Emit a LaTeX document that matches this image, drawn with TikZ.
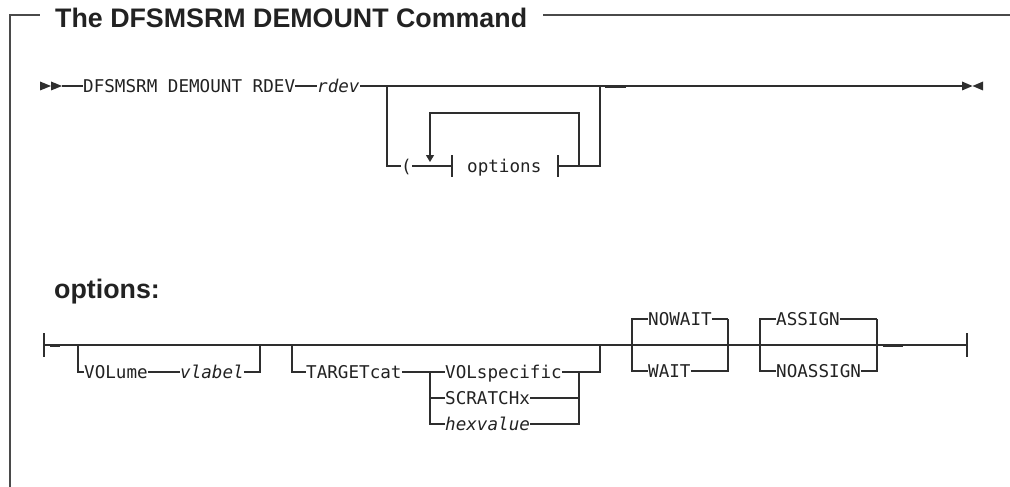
\documentclass[tikz,border=0pt]{standalone}
\usepackage{fontspec}
\setmainfont{Liberation Sans}
\newfontfamily\monof{DejaVu Sans Mono}
\usetikzlibrary{arrows.meta}
\definecolor{ink}{HTML}{222222}
\definecolor{rule}{HTML}{2E2E2E}
\definecolor{framec}{HTML}{4A4A4A}
\begin{document}
\begin{tikzpicture}[x=1pt,y=-1pt,
  rr/.style={draw=rule, line width=1.1pt},
  frame/.style={draw=framec, line width=1.5pt},
  kw/.style={font={\monof\fontsize{17.6}{20}\selectfont}, text=ink, inner sep=0pt,
             text height=12.8pt, text depth=0pt, anchor=west},
  var/.style={kw, font={\monof\itshape\fontsize{17.6}{20}\selectfont}},
  head/.style={font={\bfseries\fontsize{26.8}{30}\selectfont}, text=ink, inner sep=0pt, anchor=base west},
  tri/.style={fill=rule},
  blip/.style={draw=rule, line width=1.9pt}]
\useasboundingbox (0,0) rectangle (1010,487);

% ---------- frame and title ----------
\node[head] (title) at (55,27.5) {The DFSMSRM DEMOUNT Command};
\coordinate (fbl) at (10,487);
\coordinate (ftl) at (10,15);
\coordinate (ftm) at (40,15);
\path (title.east) ++(16,0) coordinate (ftr0);
\coordinate (ftr1) at (1010,15);
\draw[frame] (fbl) -- (ftl) -- (ftm);
\draw[frame] (ftr0 |- ftl) -- (ftr1);

% ---------- main syntax line ----------
\fill[tri] (40,81.5) -- (51,86) -- (40,90.5) -- cycle;
\fill[tri] (51,81.5) -- (62,86) -- (51,90.5) -- cycle;
\coordinate (s1) at (62,86);
\node[kw] (cmd) at (83,86) {DFSMSRM DEMOUNT RDEV};
\node[var] (rdev) at (317,86) {rdev};
\coordinate (e1) at (962,86);
\fill[tri] (962,81.5) -- (972.5,86) -- (962,90.5) -- cycle;
\fill[tri] (983,81.5) -- (972.5,86) -- (983,90.5) -- cycle;
\draw[rr] (s1) -- (cmd.west);
\draw[rr] (cmd.east) -- (rdev.west);
\draw[rr] (rdev.east) -- (e1);
\draw[blip] (605,86.8) -- (626,86.8);

% optional ( options ) loop
\coordinate (la) at (387,86);
\coordinate (ld) at (600,86);
\coordinate (lc) at (600,166);
\node[kw] (paren) at (401,166) {(};
\coordinate (bl) at (452,166);
\coordinate (br) at (558,166);
\coordinate (bt) at (0,155);
\coordinate (bb) at (0,177);
\node[kw] (opt) at (467,166) {options};
\draw[rr] (la) |- (paren.west);
\draw[rr] (paren.east) -- (bl);
\draw[rr] (bl |- bt) -- (bl |- bb);
\draw[rr] (br |- bt) -- (br |- bb);
\draw[rr] (br) -- (lc) -- (ld);
\coordinate (ra) at (579,166);
\coordinate (rt) at (430,113);
\coordinate (rh) at (430,162);
\draw[rr, -{Triangle[width=8pt,length=7pt]}] (ra) |- (rt) -- (rh);

% ---------- options fragment ----------
\node[head] (opth) at (54,298) {options:};

\coordinate (s2) at (44,345);
\coordinate (e2) at (967,345);
\draw[rr] (44,333) -- (44,357);
\draw[rr] (967,333) -- (967,357);
\draw[rr] (s2) -- (e2);
\draw[blip] (50,345.6) -- (60,345.6);
\draw[blip] (883,345.8) -- (903,345.8);

% VOLume vlabel
\coordinate (v1) at (78,345);
\coordinate (v2) at (260,345);
\node[kw] (vol) at (84,372) {VOLume};
\node[var] (vlab) at (180,372) {vlabel};
\draw[rr] (v1) |- (vol.west);
\draw[rr] (vol.east) -- (vlab.west);
\draw[rr] (vlab.east) -| (v2);

% TARGETcat
\coordinate (t1) at (292,345);
\coordinate (t2) at (600,345);
\node[kw] (tgt) at (306,372) {TARGETcat};
\coordinate (sl) at (430,372);
\coordinate (sr) at (579,372);
\node[kw] (vs) at (445,372) {VOLspecific};
\node[kw] (scr) at (445,398) {SCRATCHx};
\node[var] (hex) at (445,424) {hexvalue};
\draw[rr] (t1) |- (tgt.west);
\draw[rr] (tgt.east) -- (sl);
\draw[rr] (sl) |- (hex.west);
\draw[rr] (sl |- scr) -- (scr.west);
\draw[rr] (sl) -- (vs.west);
\draw[rr] (vs.east) -- (sr);
\draw[rr] (scr.east) -| (sr);
\draw[rr] (hex.east) -| (sr);
\draw[rr] (sr) -| (t2);

% NOWAIT / WAIT
\coordinate (w1) at (632,319);
\coordinate (w2) at (728,319);
\node[kw] (nowait) at (648,319) {NOWAIT};
\node[kw] (wait) at (648,371) {WAIT};
\draw[rr] (nowait.west) -| (w1) |- (wait.west);
\draw[rr] (nowait.east) -- (w2);
\draw[rr] (wait.east) -| (w2);

% ASSIGN / NOASSIGN
\coordinate (a1) at (760,319);
\coordinate (a2) at (877,319);
\node[kw] (asg) at (776,319) {ASSIGN};
\node[kw] (noasg) at (776,371) {NOASSIGN};
\draw[rr] (asg.west) -| (a1) |- (noasg.west);
\draw[rr] (asg.east) -- (a2);
\draw[rr] (noasg.east) -| (a2);
\end{tikzpicture}
\end{document}
